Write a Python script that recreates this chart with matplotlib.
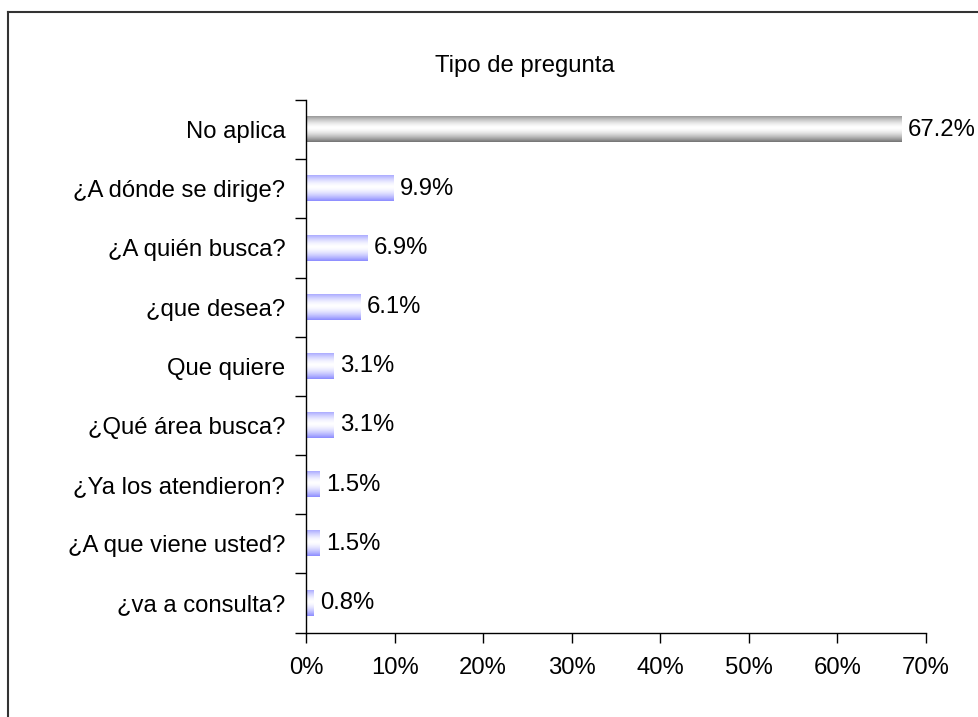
import matplotlib
matplotlib.use("Agg")
import matplotlib.pyplot as plt
import numpy as np
from matplotlib.lines import Line2D
from matplotlib.ticker import FuncFormatter

categories = ["No aplica", "¿A dónde se dirige?", "¿A quién busca?", "¿que desea?",
              "Que quiere", "¿Qué área busca?", "¿Ya los atendieron?",
              "¿A que viene usted?", "¿va a consulta?"]
values = [67.2, 9.9, 6.9, 6.1, 3.1, 3.1, 1.5, 1.5, 0.8]
value_labels = ["67.2%", "9.9%", "6.9%", "6.1%", "3.1%", "3.1%", "1.5%", "1.5%", "0.8%"]
title = "Tipo de pregunta"
xticks = [0, 10, 20, 30, 40, 50, 60, 70]

plt.rcParams['font.family'] = ['Liberation Sans', 'DejaVu Sans']
FS = 17.2

fig = plt.figure(figsize=(9.79, 7.17), dpi=100)
ax = fig.add_axes([306/979, 1 - 632.5/717, 620/979, 532.5/717])

n = len(categories)
ypos = np.arange(n)[::-1]  # first category on top
bar_h = 0.43

def gradient_bar(ax, x0, x1, yc, h, edge_rgb):
    t = np.linspace(0, 1, 64)
    prof = 1 - np.abs((t - 0.55) / 0.55) ** 1.6
    prof = np.clip(prof, 0, 1)
    edge = np.array(edge_rgb)
    img = edge[None, :] + (1 - edge[None, :]) * prof[:, None]
    img = img[:, None, :]
    ax.imshow(img, extent=(x0, x1, yc - h / 2, yc + h / 2), aspect='auto',
              origin='lower', interpolation='bilinear', zorder=2)

for i, (v, yp) in enumerate(zip(values, ypos)):
    col = (0.45, 0.45, 0.45) if i == 0 else (0.55, 0.55, 1.0)
    gradient_bar(ax, 0, v, yp, bar_h, col)
    ax.text(v + 0.75, yp, value_labels[i], va='center', ha='left', fontsize=FS, color='black')

ax.set_xlim(0, 70)
ax.set_ylim(-0.5, n - 0.5)
ax.set_xticks(xticks)
ax.xaxis.set_major_formatter(FuncFormatter(lambda x, p: f"{int(x)}%"))
ax.set_yticks(ypos)
ax.set_yticklabels(categories)
ax.set_yticks(np.arange(-0.5, n, 1.0), minor=True)
ax.tick_params(axis='y', which='major', length=0, pad=15, labelsize=FS)
ax.tick_params(axis='y', which='minor', length=8, width=1, direction='out')
ax.tick_params(axis='x', which='major', length=7, width=1, direction='out', pad=11, labelsize=FS)
for s in ['top', 'right']:
    ax.spines[s].set_visible(False)
for s in ['left', 'bottom']:
    ax.spines[s].set_linewidth(1)
    ax.spines[s].set_color('black')

fig.text(525/979, 1 - 66/717, title, ha='center', va='center', fontsize=FS)

fig.add_artist(Line2D([8.5/979, 1.0], [1 - 11.5/717, 1 - 11.5/717], transform=fig.transFigure,
                      color='#333333', lw=1.5))
fig.add_artist(Line2D([8.5/979, 8.5/979], [0, 1 - 11.5/717], transform=fig.transFigure,
                      color='#333333', lw=1.5))

fig.savefig("out.png", dpi=100)
